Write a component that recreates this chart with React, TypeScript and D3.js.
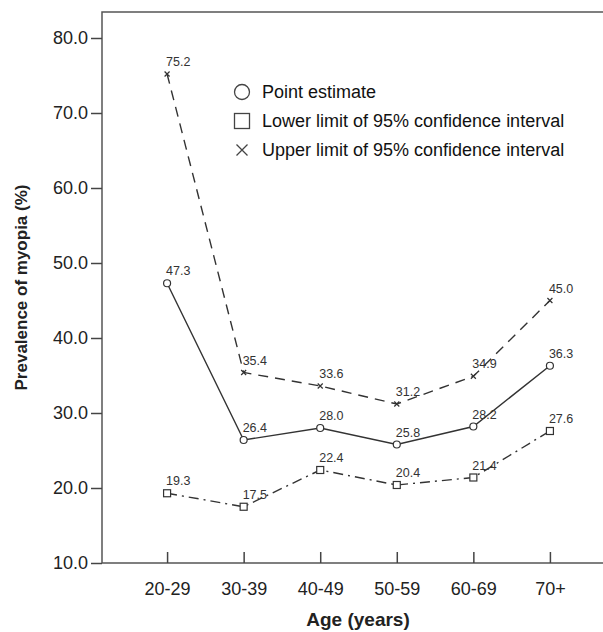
import { useEffect, useRef } from 'react';
import * as d3 from 'd3';

const AGE_GROUPS = ['20-29', '30-39', '40-49', '50-59', '60-69', '70+'];
const POINT_ESTIMATE = [47.3, 26.4, 28.0, 25.8, 28.2, 36.3];
const LOWER_LIMIT = [19.3, 17.5, 22.4, 20.4, 21.4, 27.6];
const UPPER_LIMIT = [75.2, 35.4, 33.6, 31.2, 34.9, 45.0];
const Y_TICKS = [10, 20, 30, 40, 50, 60, 70, 80];

const WIDTH = 603;
const HEIGHT = 632;
const FONT = 'Arial, "Liberation Sans", Helvetica, sans-serif';
const INK = '#333';

export default function App() {
  const svgRef = useRef<SVGSVGElement>(null);

  useEffect(() => {
    if (!svgRef.current) return;
    const svg = d3.select(svgRef.current);
    svg.selectAll('*').remove();

    const left = 102;
    const right = 615; // frame runs off the right edge
    const top = 12;
    const bottom = 563;

    const x = d3.scalePoint<string>().domain(AGE_GROUPS).range([left, right]).padding(0.85);
    const y = d3.scaleLinear().domain([10, 80]).range([bottom, 38]);

    // frame
    svg.append('rect')
      .attr('x', left).attr('y', top)
      .attr('width', right - left).attr('height', bottom - top)
      .attr('fill', 'none').attr('stroke', '#555').attr('stroke-width', 1.5);

    // y axis
    const yAxis = svg.append('g')
      .attr('transform', `translate(${left},0)`)
      .call(d3.axisLeft(y).tickValues(Y_TICKS).tickSize(11).tickPadding(3).tickFormat(d3.format('.1f')));
    yAxis.select('.domain').remove();
    yAxis.selectAll('line').attr('stroke', '#444').attr('stroke-width', 1.5);
    yAxis.selectAll('text')
      .attr('font-family', FONT).attr('font-size', 18).attr('fill', '#222');

    // x axis
    const xAxis = svg.append('g')
      .attr('transform', `translate(0,${bottom})`)
      .call(d3.axisBottom(x).tickSize(-11).tickPadding(10));
    xAxis.select('.domain').remove();
    xAxis.selectAll('line').attr('stroke', '#444').attr('stroke-width', 1.5);
    xAxis.selectAll('text')
      .attr('font-family', FONT).attr('font-size', 18).attr('fill', '#222')
      .attr('dy', '1.2em');

    // axis titles
    svg.append('text')
      .attr('transform', `translate(27,${(top + bottom) / 2}) rotate(-90)`)
      .attr('text-anchor', 'middle')
      .attr('font-family', FONT).attr('font-size', 17).attr('font-weight', 'bold').attr('fill', '#222')
      .text('Prevalence of myopia (%)');

    svg.append('text')
      .attr('x', 358).attr('y', 626)
      .attr('text-anchor', 'middle')
      .attr('font-family', FONT).attr('font-size', 19).attr('font-weight', 'bold').attr('fill', '#222')
      .text('Age (years)');

    const series = [
      { values: UPPER_LIMIT, dash: '10,7', marker: 'x' },
      { values: POINT_ESTIMATE, dash: null, marker: 'circle' },
      { values: LOWER_LIMIT, dash: '10,5,2,5', marker: 'square' },
    ];

    const line = d3.line<number>()
      .x((_d, i) => x(AGE_GROUPS[i]) as number)
      .y(d => y(d));

    series.forEach(s => {
      svg.append('path')
        .datum(s.values)
        .attr('d', line)
        .attr('fill', 'none')
        .attr('stroke', INK)
        .attr('stroke-width', 1.4)
        .attr('stroke-dasharray', s.dash);

      const g = svg.append('g');
      s.values.forEach((v, i) => {
        const cx = x(AGE_GROUPS[i]) as number;
        const cy = y(v);
        if (s.marker === 'circle') {
          g.append('circle').attr('cx', cx).attr('cy', cy).attr('r', 3.5)
            .attr('fill', 'white').attr('stroke', INK).attr('stroke-width', 1.2);
        } else if (s.marker === 'square') {
          g.append('rect').attr('x', cx - 3.5).attr('y', cy - 3.5).attr('width', 7).attr('height', 7)
            .attr('fill', 'white').attr('stroke', INK).attr('stroke-width', 1.2);
        } else {
          g.append('path')
            .attr('d', `M${cx - 2.5},${cy - 2.5}L${cx + 2.5},${cy + 2.5}M${cx - 2.5},${cy + 2.5}L${cx + 2.5},${cy - 2.5}`)
            .attr('stroke', INK).attr('stroke-width', 1.2);
        }
        g.append('text')
          .attr('x', cx - 1).attr('y', cy - 8)
          .attr('font-family', FONT).attr('font-size', 12.5).attr('fill', '#333')
          .text(d3.format('.1f')(v));
      });
    });

    // legend
    const legendItems = [
      { label: 'Point estimate', marker: 'circle' },
      { label: 'Lower limit of 95% confidence interval', marker: 'square' },
      { label: 'Upper limit of 95% confidence interval', marker: 'x' },
    ];
    const legend = svg.append('g').attr('transform', 'translate(242,92)');
    legendItems.forEach((item, i) => {
      const row = legend.append('g').attr('transform', `translate(0,${i * 29})`);
      if (item.marker === 'circle') {
        row.append('circle').attr('r', 7.5).attr('fill', 'white').attr('stroke', '#444').attr('stroke-width', 1.3);
      } else if (item.marker === 'square') {
        row.append('rect').attr('x', -7.5).attr('y', -7.5).attr('width', 15).attr('height', 15)
          .attr('fill', 'white').attr('stroke', '#444').attr('stroke-width', 1.3);
      } else {
        row.append('path').attr('d', 'M-5.5,-5.5L5.5,5.5M-5.5,5.5L5.5,-5.5').attr('stroke', '#444').attr('stroke-width', 1.3);
      }
      row.append('text')
        .attr('x', 20).attr('dy', '0.35em')
        .attr('font-family', FONT).attr('font-size', 18).attr('fill', '#111')
        .text(item.label);
    });
  }, []);

  return (
    <svg
      ref={svgRef}
      width={WIDTH}
      height={HEIGHT}
      style={{ position: 'absolute', left: 0, top: 0, background: 'white', display: 'block' }}
    />
  );
}
